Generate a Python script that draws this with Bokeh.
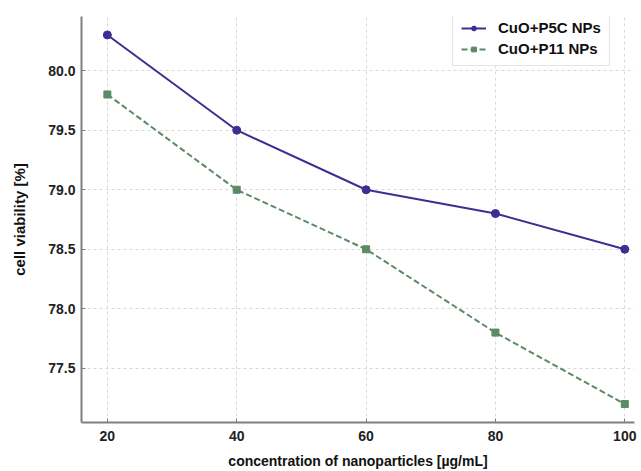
from bokeh.plotting import figure
from bokeh.models import Range1d, FixedTicker, Legend, LegendItem
from bokeh.embed import file_html
from bokeh.resources import INLINE

concentration = [20, 40, 60, 80, 100]
p5c_viability = [80.3, 79.5, 79.0, 78.8, 78.5]
p11_viability = [79.8, 79.0, 78.5, 77.8, 77.2]
x_ticks = [20, 40, 60, 80, 100]
y_ticks = [77.5, 78.0, 78.5, 79.0, 79.5, 80.0]

BLUE = "#3b2f92"
GREEN = "#5b8a65"
FONT = "Liberation Sans"

p = figure(width=641, height=471, output_backend="svg", toolbar_location=None,
           x_range=Range1d(16, 101.5), y_range=Range1d(77.045, 80.455),
           min_border_left=81, min_border_right=7, min_border_top=16, min_border_bottom=49)
p.outline_line_color = None

l1 = p.line(concentration, p5c_viability, line_color=BLUE, line_width=2)
m1 = p.scatter(concentration, p5c_viability, marker="circle", size=8, fill_color=BLUE, line_color=BLUE)
l2 = p.line(concentration, p11_viability, line_color=GREEN, line_width=2, line_dash="6 3")
m2 = p.scatter(concentration, p11_viability, marker="square", size=7, fill_color=GREEN, line_color=GREEN)

p.xaxis.ticker = FixedTicker(ticks=x_ticks)
p.yaxis.ticker = FixedTicker(ticks=y_ticks)
p.yaxis.major_label_overrides = {v: f"{v:.1f}" for v in y_ticks}

for ax in (p.xaxis[0], p.yaxis[0]):
    ax.axis_line_color = "#808080"
    ax.axis_line_width = 2
    ax.major_tick_in = 4
    ax.major_tick_out = 0
    ax.major_tick_line_color = "#808080"
    ax.minor_tick_line_color = None
    ax.major_label_text_font = FONT
    ax.major_label_text_font_style = "bold"
    ax.major_label_text_font_size = "14px"
    ax.major_label_text_color = "#222222"
    ax.axis_label_text_font = FONT
    ax.axis_label_text_font_style = "bold"
    ax.axis_label_text_color = "#111111"

p.xaxis.axis_label = "concentration of nanoparticles [µg/mL]"
p.yaxis.axis_label = "cell viability [%]"
p.xaxis.axis_label_text_font_size = "14px"
p.yaxis.axis_label_text_font_size = "15px"
p.xaxis.major_label_standoff = 8
p.xaxis.axis_label_standoff = 9
p.yaxis.major_label_standoff = 6
p.yaxis.axis_label_standoff = 17

p.grid.grid_line_color = "#d9d9d9"
p.grid.grid_line_dash = "3 3"
p.grid.grid_line_width = 1

legend = Legend(items=[LegendItem(label="CuO+P5C NPs", renderers=[l1, m1]),
                       LegendItem(label="CuO+P11 NPs", renderers=[l2, m2])],
                location=(371, 356))
legend.label_text_font = FONT
legend.label_text_font_style = "bold"
legend.label_text_font_size = "15px"
legend.label_text_color = "#111111"
legend.border_line_color = "#cccccc"
legend.border_line_width = 1
legend.background_fill_alpha = 1
legend.glyph_width = 25
legend.glyph_height = 12
legend.label_height = 12
legend.spacing = 4
legend.padding = 8
legend.margin = 0
legend.label_standoff = 12
p.add_layout(legend)

open("out.html", "w").write(file_html(p, INLINE))
